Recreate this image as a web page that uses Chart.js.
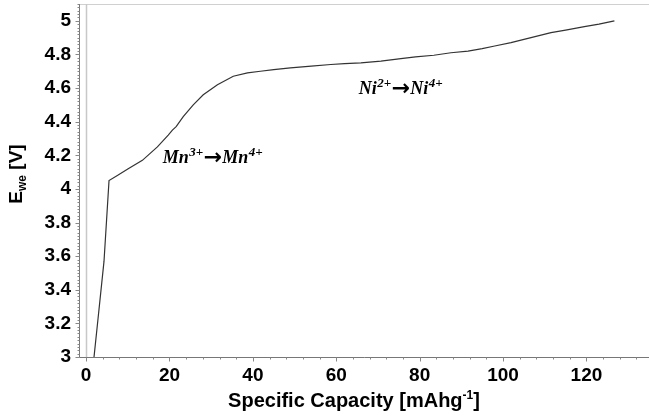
<!DOCTYPE html>
<html><head><meta charset="utf-8">
<script src="https://cdn.jsdelivr.net/npm/chart.js@4/dist/chart.umd.min.js"></script>
<style>html,body{margin:0;padding:0;background:#fff}canvas{display:block}</style>
</head><body>
<canvas id="c" width="649" height="418"></canvas>
<script>
const capacity = [1.9, 3.0, 4.3, 5.5, 7.5, 10.1, 13.5, 17.1, 19.7, 20.7, 21.6, 23.3, 25.7, 28.1, 31.5, 35.3, 38.7, 41.8, 45, 49, 54, 58.7, 62, 65.9, 70.7, 75.5, 79, 83.4, 87.5, 91.6, 95, 98, 101.9, 106.7, 111.5, 115, 119.5, 123, 126.7];
const voltage  = [3.0, 3.26, 3.57, 4.05, 4.08, 4.12, 4.17, 4.25, 4.32, 4.35, 4.37, 4.43, 4.50, 4.56, 4.62, 4.67, 4.69, 4.70, 4.71, 4.72, 4.73, 4.74, 4.745, 4.75, 4.76, 4.775, 4.785, 4.795, 4.81, 4.82, 4.835, 4.85, 4.87, 4.90, 4.93, 4.945, 4.965, 4.98, 5.0];
const xTickValues = [0, 20, 40, 60, 80, 100, 120];
const xTickLabels = ['0', '20', '40', '60', '80', '100', '120'];
const yTickValues = [3, 3.2, 3.4, 3.6, 3.8, 4, 4.2, 4.4, 4.6, 4.8, 5];
const yTickLabels = ['3', '3.2', '3.4', '3.6', '3.8', '4', '4.2', '4.4', '4.6', '4.8', '5'];
const annotations = [
  {x: 18.4, y: 4.19, parts: [['Mn',0],['3+',1],['\u2192',0],['Mn',0],['4+',1]]},
  {x: 65.4, y: 4.60, parts: [['Ni',0],['2+',1],['\u2192',0],['Ni',0],['4+',1]]}
];
const xTitle = [['Specific Capacity [mAhg',0],['-1',1],[']',0]];
const yTitle = [['E',0],['we',-1],[' [V]',0]];

function drawRich(ctx, parts, x, y, size, family, align) {
  const big = 'bold ' + size + 'px ' + family;
  const small = 'bold ' + Math.round(size*0.62) + 'px ' + family;
  let w = 0;
  parts.forEach(p => { ctx.font = p[1] ? small : big; w += ctx.measureText(p[0]).width; });
  let cx = align === 'center' ? x - w/2 : x;
  ctx.textBaseline = 'alphabetic';
  ctx.textAlign = 'left';
  parts.forEach(p => {
    ctx.font = p[1] ? small : big;
    let dy = p[1] === 1 ? -size*0.38 : (p[1] === -1 ? size*0.22 : 0);
    ctx.fillText(p[0], cx, y + dy);
    cx += ctx.measureText(p[0]).width;
  });
}

const deco = {
  id: 'deco',
  beforeDatasetsDraw(chart) {
    const ctx = chart.ctx, xs = chart.scales.x, ys = chart.scales.y, a = chart.chartArea;
    ctx.save();
    ctx.strokeStyle = '#d0d0d0'; ctx.lineWidth = 1;
    ctx.beginPath(); ctx.moveTo(a.left, a.top + 0.5); ctx.lineTo(a.right, a.top + 0.5); ctx.stroke();
    const x0 = Math.round(xs.getPixelForValue(0)) + 0.5;
    ctx.strokeStyle = '#c8c8c8'; ctx.lineWidth = 1.5;
    ctx.beginPath(); ctx.moveTo(x0, a.top); ctx.lineTo(x0, a.bottom); ctx.stroke();
    ctx.strokeStyle = '#777'; ctx.lineWidth = 1;
    ctx.beginPath(); ctx.moveTo(a.left + 0.5, a.top); ctx.lineTo(a.left + 0.5, a.bottom + 0.5); ctx.lineTo(a.right, a.bottom + 0.5); ctx.stroke();
    ctx.strokeStyle = '#888';
    ctx.beginPath();
    for (let v = 0; v <= 135; v += 4) {
      const px = Math.round(xs.getPixelForValue(v)) + 0.5;
      const len = (v % 20 === 0) ? 4 : 2;
      ctx.moveTo(px, a.bottom + 0.5); ctx.lineTo(px, a.bottom + 0.5 + len);
    }
    for (let i = 0; i <= 105; i++) {
      const v = 3 + i * 0.02;
      const py = Math.round(ys.getPixelForValue(v)) + 0.5;
      const len = (i % 10 === 0) ? 4 : 2;
      ctx.moveTo(a.left + 0.5, py); ctx.lineTo(a.left + 0.5 - len, py);
    }
    ctx.stroke();
    ctx.restore();
  },
  afterDraw(chart) {
    const ctx = chart.ctx, xs = chart.scales.x, ys = chart.scales.y;
    ctx.save();
    ctx.fillStyle = '#000';
    annotations.forEach(an => {
      const px = xs.getPixelForValue(an.x), py = ys.getPixelForValue(an.y);
      const big = 'italic bold 18px "Liberation Serif"';
      const small = 'italic bold 13px "Liberation Serif"';
      let cx = px;
      ctx.textBaseline = 'alphabetic'; ctx.textAlign = 'left';
      an.parts.forEach(p => {
        const isArrow = p[0] === '\u2192';
        ctx.font = isArrow ? 'bold 22px "DejaVu Sans"' : (p[1] ? small : big);
        const dy = p[1] ? -7 : (isArrow ? 1 : 0);
        ctx.fillText(p[0], cx, py + 6 + dy);
        cx += ctx.measureText(p[0]).width + (isArrow ? 0 : 0.5);
      });
    });
    drawRich(ctx, xTitle, 354, 407, 20, '"Liberation Sans"', 'center');
    ctx.save();
    ctx.translate(22, 174);
    ctx.rotate(-Math.PI/2);
    drawRich(ctx, yTitle, 0, 0, 19, '"Liberation Sans"', 'center');
    ctx.restore();
    ctx.restore();
  }
};

new Chart(document.getElementById('c'), {
  type: 'line',
  data: { datasets: [{ data: capacity.map((c, i) => ({x: c, y: voltage[i]})), borderColor: '#333', borderWidth: 1.2, pointRadius: 0, tension: 0, fill: false }] },
  options: {
    responsive: false, animation: false, devicePixelRatio: 1,
    layout: { padding: { top: 4, right: 0, left: 0, bottom: 0 } },
    plugins: { legend: { display: false }, tooltip: { enabled: false } },
    scales: {
      x: {
        type: 'linear', min: -1.7, max: 135,
        afterBuildTicks: s => { s.ticks = xTickValues.map(v => ({value: v})); },
        afterFit: s => { s.height = 61; s.paddingLeft = 0; s.paddingRight = 0; },
        grid: { display: false, drawTicks: false }, border: { display: false },
        ticks: { padding: 7, color: '#000', font: { family: '"Liberation Sans"', size: 19, weight: 'bold' },
                 callback: (v, i) => xTickLabels[i] }
      },
      y: {
        type: 'linear', min: 3, max: 5.1,
        afterBuildTicks: s => { s.ticks = yTickValues.map(v => ({value: v})); },
        afterFit: s => { s.width = 79; s.paddingTop = 0; s.paddingBottom = 0; },
        grid: { display: false, drawTicks: false }, border: { display: false },
        ticks: { padding: 8, color: '#000', font: { family: '"Liberation Sans"', size: 19, weight: 'bold' },
                 callback: (v, i) => yTickLabels[i] }
      }
    }
  },
  plugins: [deco]
});
</script>
</body></html>
